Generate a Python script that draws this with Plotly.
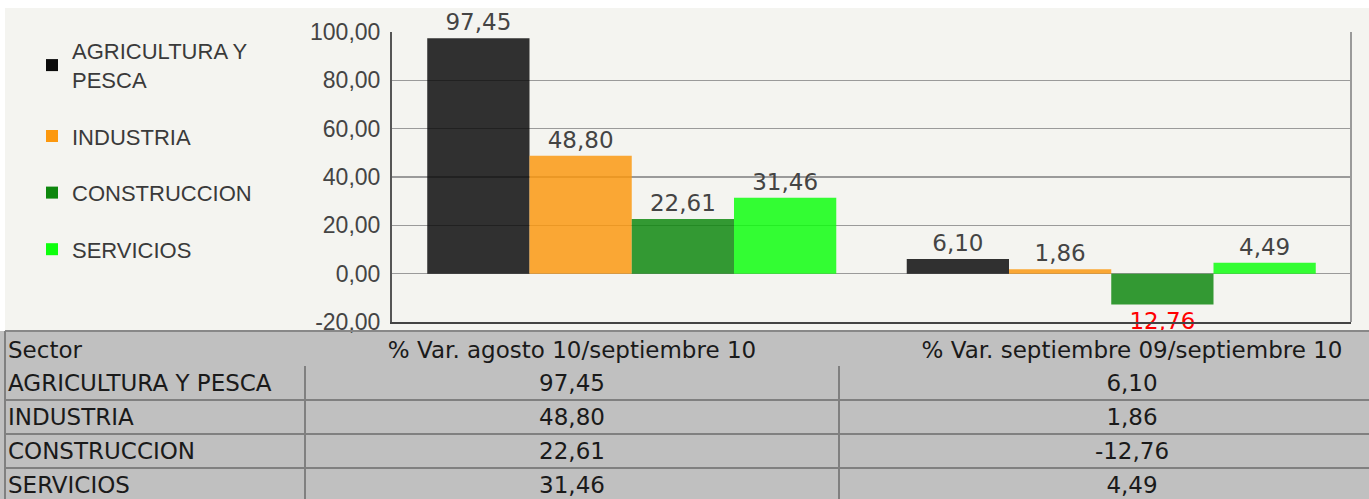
import plotly.graph_objects as go

# ---------------- data ----------------
categories = ["% Var. agosto 10/septiembre 10", "% Var. septiembre 09/septiembre 10"]
sectors = ["AGRICULTURA Y PESCA", "INDUSTRIA", "CONSTRUCCION", "SERVICIOS"]
legend_names = ["AGRICULTURA Y<br>PESCA", "INDUSTRIA", "CONSTRUCCION", "SERVICIOS"]
var_ago10_sep10 = [97.45, 48.80, 22.61, 31.46]
var_sep09_sep10 = [6.10, 1.86, -12.76, 4.49]
y_ticks = [-20, 0, 20, 40, 60, 80, 100]

# ---------------- style ----------------
W, H = 1369, 499
colors = ["#0a0a0a", "#fc980e", "#0d870d", "#0dff0d"]
FONT = "Liberation Sans"
WIDE = "DejaVu Sans"
TXT = "#444444"


def fx(p):
    return p / W


def fy(p):
    return 1 - p / H


def fmt(v):
    return f"{v:.2f}".replace(".", ",")


fig = go.Figure()

for i, name in enumerate(legend_names):
    vals = [var_ago10_sep10[i], var_sep09_sep10[i]]
    fig.add_trace(go.Bar(
        x=categories, y=vals, name=name,
        legendgroup=f"g{i}",
        marker=dict(color=colors[i], opacity=0.835, line=dict(width=0)),
        text=[fmt(abs(v)) for v in vals],
        textposition="outside",
        textangle=0,
        textfont=dict(family=WIDE, size=23,
                      color=["#ff0000" if v < 0 else TXT for v in vals]),
        cliponaxis=False,
        hoverinfo="skip",
    ))

# ---------------- table (text drawn on a hidden subplot) ----------------
col_edges = [5, 305, 839, 1425]
centers = [(col_edges[k] + col_edges[k + 1]) / 2 for k in range(3)]
rows = list(range(1, len(sectors) + 1))
tfont = dict(family=WIDE, size=23, color="#1a1a1a")
dy = 0.06  # small vertical nudge of the text inside each row
row_y = [r + dy for r in rows]

fig.add_trace(go.Scatter(
    x=[col_edges[0] + 3, centers[1], centers[2]], y=[0.1, 0.1, 0.1],
    text=["Sector"] + categories, mode="text",
    textposition=["middle right", "middle center", "middle center"],
    textfont=tfont, xaxis="x2", yaxis="y2", showlegend=False, hoverinfo="skip",
))
fig.add_trace(go.Scatter(
    x=[col_edges[0] + 3] * len(sectors), y=row_y, text=sectors, mode="text",
    textposition="middle right", textfont=tfont,
    xaxis="x2", yaxis="y2", showlegend=False, hoverinfo="skip",
))
fig.add_trace(go.Scatter(
    x=[centers[1]] * len(sectors), y=row_y, text=[fmt(v) for v in var_ago10_sep10],
    mode="text", textposition="middle center", textfont=tfont,
    xaxis="x2", yaxis="y2", showlegend=False, hoverinfo="skip",
))
fig.add_trace(go.Scatter(
    x=[centers[2]] * len(sectors), y=row_y, text=[fmt(v) for v in var_sep09_sep10],
    mode="text", textposition="middle center", textfont=tfont,
    xaxis="x2", yaxis="y2", showlegend=False, hoverinfo="skip",
))

table_top = 331
row_h = 34
header_c = 349
shapes = [
    dict(type="rect", xref="paper", yref="paper", x0=fx(5), x1=1, y0=fy(331), y1=fy(8),
         fillcolor="#f4f4f0", line=dict(width=0), layer="below"),
    dict(type="rect", xref="paper", yref="paper", x0=0, x1=1, y0=0, y1=fy(table_top),
         fillcolor="#c0c0c0", line=dict(width=0), layer="below"),
    dict(type="line", xref="paper", yref="paper", x0=fx(5), x1=1, y0=fy(table_top), y1=fy(table_top),
         line=dict(color="#888888", width=2)),
    dict(type="line", xref="x domain", yref="y domain", x0=1, x1=1, y0=0, y1=1,
         line=dict(color="#9a9a9a", width=2), layer="below"),
]
ytop = -(header_c - table_top) / row_h
ybot = (H - header_c) / row_h
shapes.append(dict(type="line", xref="x2", yref="y2", x0=col_edges[0], x1=col_edges[0],
                   y0=ytop, y1=ybot, line=dict(color="#808080", width=2)))
for xe in col_edges[1:3]:
    shapes.append(dict(type="line", xref="x2", yref="y2", x0=xe, x1=xe,
                       y0=0.5, y1=ybot, line=dict(color="#808080", width=2)))
for r in rows[:-1]:
    shapes.append(dict(type="line", xref="x2", yref="y2", x0=col_edges[0], x1=W,
                       y0=r + 0.5, y1=r + 0.5, line=dict(color="#808080", width=2)))

fig.update_layout(
    width=W, height=H,
    margin=dict(l=0, r=0, t=0, b=0, autoexpand=False),
    paper_bgcolor="white",
    plot_bgcolor="rgba(0,0,0,0)",
    separators=",.",
    barmode="group",
    bargap=0.147,
    bargroupgap=0,
    font=dict(family=FONT, size=23, color=TXT),
    xaxis=dict(domain=[fx(392), fx(1351)], showticklabels=False, ticks="",
               showgrid=False, zeroline=False, showline=True, automargin=False,
               linecolor="#444444", linewidth=2, anchor="y", fixedrange=True),
    yaxis=dict(domain=[fy(322), fy(32)], range=[-20, 100], tickmode="array",
               tickvals=y_ticks, ticktext=[fmt(v) for v in y_ticks],
               ticks="", ticklabelstandoff=5, automargin=False,
               tickfont=dict(family=FONT, size=23, color=TXT),
               showgrid=True, gridcolor="#9a9a9a", gridwidth=1.5,
               zeroline=False, showline=True, linecolor="#555555", linewidth=2,
               anchor="x", fixedrange=True),
    xaxis2=dict(domain=[0, 1], range=[0, W], visible=False, anchor="y2",
                automargin=False, fixedrange=True),
    yaxis2=dict(domain=[0, fy(table_top)], range=[ybot, ytop], visible=False,
                anchor="x2", automargin=False, fixedrange=True),
    legend=dict(x=fx(32), y=fy(30), xanchor="left", yanchor="top",
                traceorder="grouped", tracegroupgap=25,
                bgcolor="rgba(0,0,0,0)",
                font=dict(family=FONT, size=22, color="#3a3a3a")),
    shapes=shapes,
    showlegend=True,
)

fig.write_html(
    "out.html",
    config={"displayModeBar": False, "staticPlot": True},
    post_script="document.body.style.margin='0';document.body.style.overflow='hidden';",
)
